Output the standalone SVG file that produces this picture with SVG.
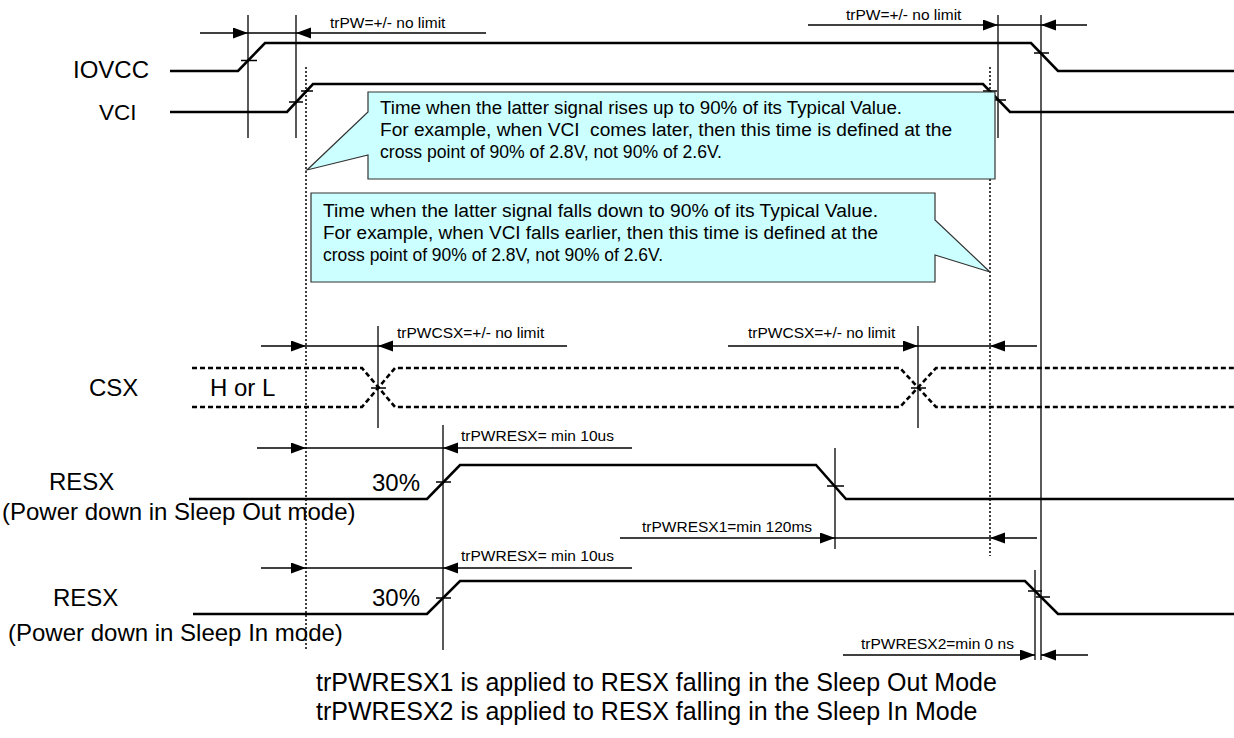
<svg xmlns="http://www.w3.org/2000/svg" width="1234" height="738" viewBox="0 0 1234 738">
<defs>
<marker id="ah" markerUnits="userSpaceOnUse" markerWidth="16" markerHeight="12" refX="15" refY="5.5" orient="auto">
<path d="M0,0 L15,5.5 L0,11 z" fill="#000"/>
</marker>
<style>
.sig{fill:none;stroke:#000;stroke-width:2.6}
.thin{fill:none;stroke:#000;stroke-width:1.3}
.arr{fill:none;stroke:#000;stroke-width:1.3;marker-end:url(#ah)}
.dot{fill:none;stroke:#000;stroke-width:1.5;stroke-dasharray:2,2}
.dash{fill:none;stroke:#000;stroke-width:2.6;stroke-dasharray:5,3}
.box{fill:#ccffff;stroke:#333;stroke-width:1.2}
text{font-family:"Liberation Sans",Arial,sans-serif;fill:#000}
.sm{font-size:15.5px}
.lb{font-size:24px}
.cl{font-size:18px}
.bt{font-size:25px}
</style>
</defs>
<rect width="1234" height="738" fill="#fff"/>

<g id="guides">
<line class="dot" x1="306" y1="67" x2="306" y2="650"/>
<line class="dot" x1="990" y1="67" x2="990" y2="556"/>
<line class="thin" x1="248" y1="15" x2="248" y2="138"/>
<line class="thin" x1="296" y1="15" x2="296" y2="138"/>
<line class="thin" x1="998" y1="15" x2="998" y2="138"/>
<line class="thin" x1="1041" y1="15" x2="1041" y2="660"/>
<line class="thin" x1="378" y1="326" x2="378" y2="428"/>
<line class="thin" x1="918" y1="326" x2="918" y2="428"/>
<line class="thin" x1="443" y1="425" x2="443" y2="650"/>
<line class="thin" x1="835" y1="448" x2="835" y2="549"/>
<line class="thin" x1="1035" y1="570" x2="1035" y2="660"/>
</g>

<g id="IOVCC">
<text class="lb" x="73" y="78">IOVCC</text>
<path class="sig" d="M170,71 L238,71 L265,43 L1031,43 L1058,71 L1234,71"/>
<path class="thin" d="M241,60.5 H257 M1034,53 H1049"/>
</g>

<g id="VCI">
<text class="lb" x="99" y="120" style="font-size:22.5px">VCI</text>
<path class="sig" d="M170,112 L287,112 L313,84 L983,84 L1010,112 L1234,112"/>
<path class="thin" d="M289,102 H303 M301,91 H313 M983,91 H997 M991,100 H1006"/>
</g>

<g id="CSX">
<text class="lb" x="89" y="396">CSX</text>
<text class="lb" x="210" y="396">H or L</text>
<path class="dash" d="M192,368 H362 L395,407 H900 L936,368 H1234"/>
<path class="dash" d="M192,407 H362 L395,368 H900 L936,407 H1234"/>
<path class="thin" d="M371,388 H386 M911,388 H926"/>
</g>

<g id="RESX1">
<text class="lb" x="49" y="490">RESX</text>
<text class="lb" x="2" y="520">(Power down in Sleep Out mode)</text>
<text class="lb" x="372" y="491">30%</text>
<path class="sig" d="M189,499 L427,499 L460,465 L816,465 L846,499 L1234,499"/>
<path class="thin" d="M436,482 H451 M827,486 H844"/>
</g>

<g id="RESX2">
<text class="lb" x="53" y="606">RESX</text>
<text class="lb" x="8" y="641">(Power down in Sleep In mode)</text>
<text class="lb" x="372" y="606">30%</text>
<path class="sig" d="M193,614 L427,614 L460,581 L1025,581 L1058,614 L1234,614"/>
<path class="thin" d="M436,598 H451 M1028,591 H1042 M1036,597 H1050"/>
</g>

<g id="connectors">
<line class="arr" x1="200" y1="33" x2="248" y2="33"/>
<line class="thin" x1="248" y1="33" x2="296" y2="33"/>
<line class="arr" x1="486" y1="33" x2="296" y2="33"/>
<line class="arr" x1="808" y1="25" x2="998" y2="25"/>
<line class="thin" x1="998" y1="25" x2="1041" y2="25"/>
<line class="arr" x1="1087" y1="25" x2="1041" y2="25"/>
<line class="arr" x1="261" y1="346" x2="306" y2="346"/>
<line class="thin" x1="306" y1="346" x2="378" y2="346"/>
<line class="arr" x1="567" y1="346" x2="378" y2="346"/>
<line class="arr" x1="728" y1="346" x2="918" y2="346"/>
<line class="thin" x1="918" y1="346" x2="990" y2="346"/>
<line class="arr" x1="1037" y1="346" x2="990" y2="346"/>
<line class="arr" x1="257" y1="448" x2="306" y2="448"/>
<line class="thin" x1="306" y1="448" x2="443" y2="448"/>
<line class="arr" x1="632" y1="448" x2="443" y2="448"/>
<line class="arr" x1="620" y1="538" x2="835" y2="538"/>
<line class="thin" x1="835" y1="538" x2="990" y2="538"/>
<line class="arr" x1="1037" y1="538" x2="990" y2="538"/>
<line class="arr" x1="261" y1="568" x2="306" y2="568"/>
<line class="thin" x1="306" y1="568" x2="443" y2="568"/>
<line class="arr" x1="632" y1="568" x2="443" y2="568"/>
<line class="arr" x1="843" y1="655" x2="1035" y2="655"/>
<line class="arr" x1="1088" y1="655" x2="1041" y2="655"/>
</g>

<g id="timing-labels">
<text class="sm" x="330" y="28">trPW=+/- no limit</text>
<text class="sm" x="846" y="20">trPW=+/- no limit</text>
<text class="sm" x="397" y="338">trPWCSX=+/- no limit</text>
<text class="sm" x="748" y="338">trPWCSX=+/- no limit</text>
<text class="sm" x="461" y="441">trPWRESX= min 10us</text>
<text class="sm" x="461" y="561">trPWRESX= min 10us</text>
<text class="sm" x="642" y="532">trPWRESX1=min 120ms</text>
<text class="sm" x="861" y="649">trPWRESX2=min 0 ns</text>
</g>

<g id="callout-rise">
<path class="box" d="M368,92 H995 V179 H368 V155 L307,170 L368,112 Z"/>
<text class="cl" x="380" y="114" textLength="522" lengthAdjust="spacingAndGlyphs">Time when the latter signal rises up to 90% of its Typical Value.</text>
<text class="cl" x="380" y="136" textLength="572" lengthAdjust="spacingAndGlyphs" xml:space="preserve">For example, when VCI  comes later, then this time is defined at the</text>
<text class="cl" x="380" y="158" textLength="342" lengthAdjust="spacingAndGlyphs">cross point of 90% of 2.8V, not 90% of 2.6V.</text>
</g>

<g id="callout-fall">
<path class="box" d="M311,193 H935 V220 L990,272 L935,255 V282 H311 Z"/>
<text class="cl" x="323" y="217" textLength="555" lengthAdjust="spacingAndGlyphs">Time when the latter signal falls down to 90% of its Typical Value.</text>
<text class="cl" x="323" y="239" textLength="555" lengthAdjust="spacingAndGlyphs">For example, when VCI falls earlier, then this time is defined at the</text>
<text class="cl" x="323" y="261" textLength="340" lengthAdjust="spacingAndGlyphs">cross point of 90% of 2.8V, not 90% of 2.6V.</text>
</g>

<g id="notes">
<text class="bt" x="316" y="691">trPWRESX1 is applied to RESX falling in the Sleep Out Mode</text>
<text class="bt" x="316" y="720">trPWRESX2 is applied to RESX falling in the Sleep In Mode</text>
</g>
</svg>
